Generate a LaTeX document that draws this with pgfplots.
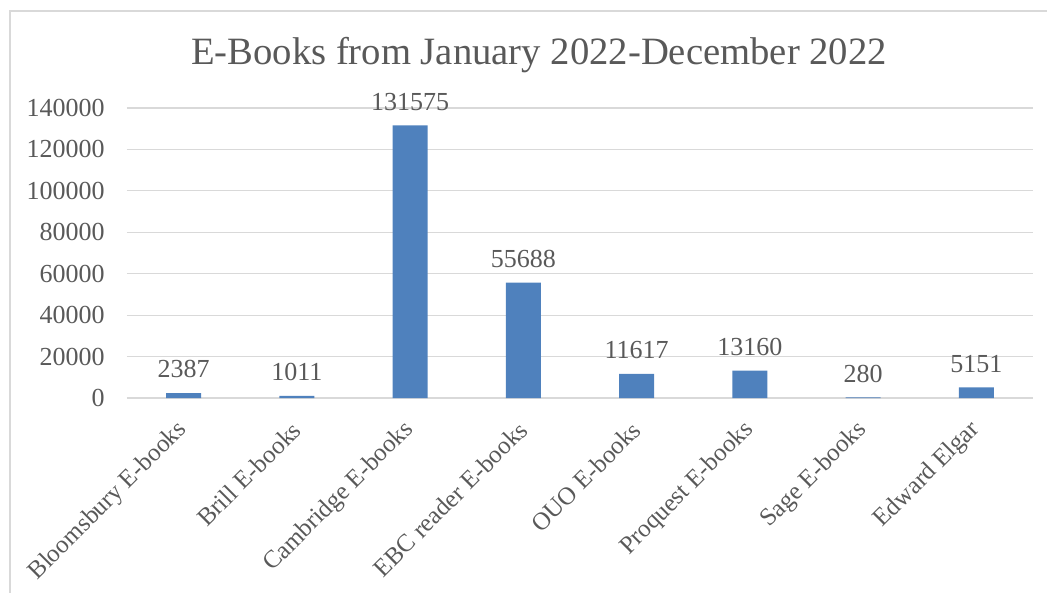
\documentclass[border=0pt]{standalone}
\usepackage{pgfplots}
\pgfplotsset{compat=1.18}
\usepackage{fontspec}
\setmainfont{Liberation Serif}

\definecolor{barblue}{HTML}{4F81BD}
\definecolor{gridgray}{HTML}{D9D9D9}
\definecolor{textgray}{HTML}{595959}

\begin{document}
\begin{tikzpicture}
    % page = 1047 x 593 px, 1 px = 0.75pt
    \useasboundingbox (0,0) rectangle (785.25pt,444.75pt);
    \draw[gridgray, line width=0.9pt] (7.5pt,0) -- (7.5pt,436.5pt) -- (785.25pt,436.5pt);

    \begin{axis}[
        at={(95.25pt,146.25pt)}, anchor=south west,
        scale only axis,
        width=679.5pt, height=217.5pt,
        xmin=-0.5, xmax=7.5,
        ymin=0, ymax=140000,
        ytick={0,20000,40000,60000,80000,100000,120000,140000},
        yticklabels={0,20000,40000,60000,80000,100000,120000,140000},
        scaled y ticks=false,
        xtick={0,...,7},
        xticklabels={Bloomsbury E-books, Brill E-books, Cambridge E-books,
            EBC reader E-books, OUO E-books, Proquest E-books, Sage E-books,
            Edward Elgar},
        axis line style={draw=none},
        major tick length=0pt,
        ymajorgrids,
        grid style={gridgray, line width=0.9pt},
        tick label style={text=textgray, font=\fontsize{19.5}{23}\selectfont},
        yticklabel style={inner sep=0pt, xshift=-16.5pt},
        xticklabel style={xshift=0pt, yshift=-21pt, rotate=45, anchor=east,
            inner sep=0pt, font=\fontsize{18.7}{22}\selectfont},
        ybar, bar width=26.25pt,
        point meta=explicit symbolic,
        nodes near coords,
        every node near coord/.append style={text=textgray,
            font=\fontsize{19.5}{23}\selectfont, anchor=south, inner sep=0pt, yshift=11pt},
        clip=false,
    ]
    \addplot[draw=none, fill=barblue] coordinates {
        (0, 2387) [2387]
        (1, 1011) [1011]
        (2, 131575) [131575]
        (3, 55688) [55688]
        (4, 11617) [11617]
        (5, 13160) [13160]
        (6, 280) [280]
        (7, 5151) [5151]
    };
    \end{axis}

    \node[text=textgray, font=\fontsize{29}{34}\selectfont] at (404.25pt,403.5pt)
        {E-Books from January 2022-December 2022};
\end{tikzpicture}
\end{document}
